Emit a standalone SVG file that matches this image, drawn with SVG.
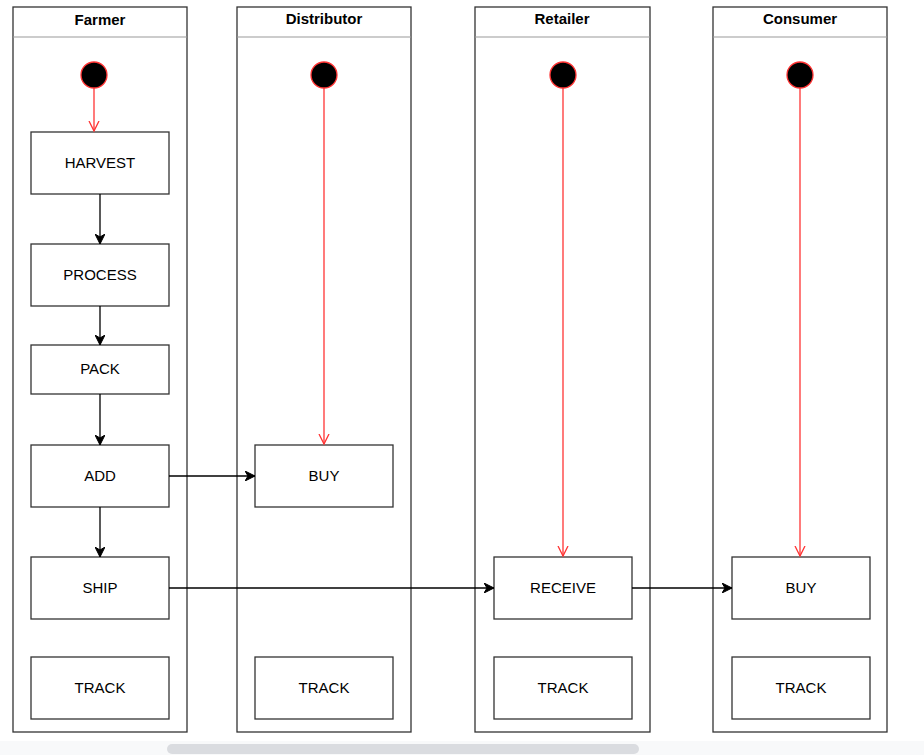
<svg xmlns="http://www.w3.org/2000/svg" width="924" height="755" viewBox="0 0 924 755">
<style>
.lane{fill:#fff;stroke:#333;stroke-width:1.3}
.hdr{stroke:#999;stroke-width:1}
.ht{font-family:"Liberation Sans",Arial,sans-serif;font-size:15px;font-weight:bold;fill:#000;text-anchor:middle}
.box{fill:#fff;stroke:#333;stroke-width:1.3}
.t{font-family:"Liberation Sans",Arial,sans-serif;font-size:15px;fill:#000;text-anchor:middle;dominant-baseline:central}
.start{fill:#000;stroke:#ff3333;stroke-width:1.3}
.red{stroke:#ff3333;stroke-width:1.3;fill:none}
.blk{stroke:#000;stroke-width:1.3;fill:none}
</style>
<defs>
<marker id="open" markerWidth="12" markerHeight="12" refX="10" refY="5" orient="auto" markerUnits="userSpaceOnUse" viewBox="0 0 12 10">
<path d="M0,0 L10,5 L0,10" fill="none" stroke="#ff3333" stroke-width="1.3"/>
</marker>
<marker id="solid" markerWidth="11" markerHeight="10" refX="10" refY="5" orient="auto" markerUnits="userSpaceOnUse" viewBox="0 0 11 10">
<path d="M0,0 L10,5 L0,10 L3,5 Z" fill="#000" stroke="#000" stroke-width="1"/>
</marker>
</defs>
<rect x="0" y="0" width="924" height="755" fill="#fff"/>
<g id="lane-farmer">
<rect class="lane" x="13" y="7" width="174" height="725"/>
<line class="hdr" x1="13" y1="37" x2="187" y2="37"/>
<text class="ht" x="100" y="25">Farmer</text>
</g>
<g id="lane-distributor">
<rect class="lane" x="237" y="7" width="174" height="725"/>
<line class="hdr" x1="237" y1="37" x2="411" y2="37"/>
<text class="ht" x="324" y="24">Distributor</text>
</g>
<g id="lane-retailer">
<rect class="lane" x="475" y="7" width="175" height="725"/>
<line class="hdr" x1="475" y1="37" x2="650" y2="37"/>
<text class="ht" x="562" y="24">Retailer</text>
</g>
<g id="lane-consumer">
<rect class="lane" x="713" y="7" width="174" height="725"/>
<line class="hdr" x1="713" y1="37" x2="887" y2="37"/>
<text class="ht" x="800" y="24">Consumer</text>
</g>
<g id="start-farmer"><circle class="start" cx="94" cy="75" r="13"/></g>
<g id="start-distributor"><circle class="start" cx="324" cy="75" r="13"/></g>
<g id="start-retailer"><circle class="start" cx="563" cy="75" r="13"/></g>
<g id="start-consumer"><circle class="start" cx="800" cy="75" r="13"/></g>
<g id="harvest"><rect class="box" x="31" y="132" width="138" height="62"/><text class="t" x="100" y="162">HARVEST</text></g>
<g id="process"><rect class="box" x="31" y="244" width="138" height="62"/><text class="t" x="100" y="274">PROCESS</text></g>
<g id="pack"><rect class="box" x="31" y="345" width="138" height="49"/><text class="t" x="100" y="368.5">PACK</text></g>
<g id="add"><rect class="box" x="31" y="445" width="138" height="62"/><text class="t" x="100" y="475">ADD</text></g>
<g id="ship"><rect class="box" x="31" y="557" width="138" height="62"/><text class="t" x="100" y="587">SHIP</text></g>
<g id="track-farmer"><rect class="box" x="31" y="657" width="138" height="62"/><text class="t" x="100" y="687">TRACK</text></g>
<g id="buy-distributor"><rect class="box" x="255" y="445" width="138" height="62"/><text class="t" x="324" y="475">BUY</text></g>
<g id="track-distributor"><rect class="box" x="255" y="657" width="138" height="62"/><text class="t" x="324" y="687">TRACK</text></g>
<g id="receive"><rect class="box" x="494" y="557" width="138" height="62"/><text class="t" x="563" y="587">RECEIVE</text></g>
<g id="track-retailer"><rect class="box" x="494" y="657" width="138" height="62"/><text class="t" x="563" y="687">TRACK</text></g>
<g id="buy-consumer"><rect class="box" x="732" y="557" width="138" height="62"/><text class="t" x="801" y="587">BUY</text></g>
<g id="track-consumer"><rect class="box" x="732" y="657" width="138" height="62"/><text class="t" x="801" y="687">TRACK</text></g>
<g id="connectors">
<line class="red" x1="94" y1="88" x2="94" y2="131" marker-end="url(#open)"/>
<line class="red" x1="324" y1="88" x2="324" y2="444" marker-end="url(#open)"/>
<line class="red" x1="563" y1="88" x2="563" y2="556" marker-end="url(#open)"/>
<line class="red" x1="800" y1="88" x2="800" y2="556" marker-end="url(#open)"/>
<line class="blk" x1="100" y1="194" x2="100" y2="244" marker-end="url(#solid)"/>
<line class="blk" x1="100" y1="306" x2="100" y2="345" marker-end="url(#solid)"/>
<line class="blk" x1="100" y1="394" x2="100" y2="445" marker-end="url(#solid)"/>
<line class="blk" x1="100" y1="507" x2="100" y2="557" marker-end="url(#solid)"/>
<line class="blk" x1="169" y1="476" x2="255" y2="476" marker-end="url(#solid)"/>
<line class="blk" x1="169" y1="588" x2="494" y2="588" marker-end="url(#solid)"/>
<line class="blk" x1="632" y1="588" x2="732" y2="588" marker-end="url(#solid)"/>
</g>
<rect x="0" y="741" width="924" height="14" fill="#f8f9fa"/>
<rect x="167" y="744" width="472" height="10" rx="5" fill="#dadce0"/>
</svg>
